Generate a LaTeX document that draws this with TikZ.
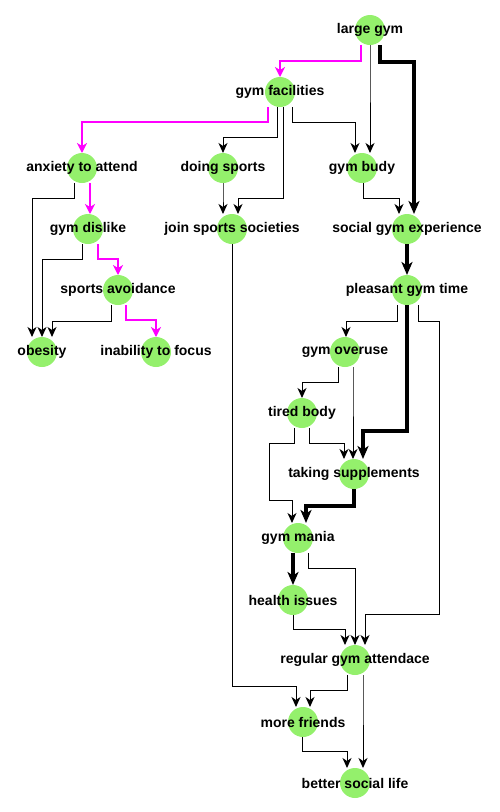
\documentclass[tikz,border=0pt]{standalone}
\usepackage{fontspec}
\setmainfont{Liberation Sans}
\usetikzlibrary{arrows.meta,backgrounds}
\definecolor{nodeG}{RGB}{148,240,108}
\definecolor{hotM}{RGB}{255,0,255}

\begin{document}
\begin{tikzpicture}[x=1pt,y=-1pt,font=\bfseries\fontsize{14}{16}\selectfont]
  \tikzset{gn/.style={circle,fill=nodeG,minimum size=30pt,inner sep=0pt,outer sep=0pt,label={[inner sep=0pt]center:#1}},
    lnk/.style={-{Stealth[length=10pt,width=9pt,inset=3pt]},line width=1pt},
    hot/.style={-{Stealth[length=13pt,width=11pt,inset=3.5pt]},line width=3.5pt},
    mag/.style={-{Stealth[length=10pt,width=10pt,inset=3pt]},line width=2.8pt,hotM}}
  \useasboundingbox (0,0) rectangle (500,812);
  \node[gn=large gym] (lg) at (370,30) {};
  \node[gn=gym facilities] (gf) at (280,92) {};
  \node[gn=anxiety to attend] (ata) at (82,168) {};
  \node[gn=doing sports] (ds) at (223,168) {};
  \node[gn=gym budy] (gb) at (362,168) {};
  \node[gn=gym dislike] (gd) at (88,229) {};
  \node[gn=join sports societies] (jss) at (232,229) {};
  \node[gn=social gym experience] (sge) at (407,229) {};
  \node[gn=sports avoidance] (sa) at (118,290) {};
  \node[gn=pleasant gym time] (pgt) at (407,290) {};
  \node[gn=obesity] (ob) at (42,352) {};
  \node[gn=inability to focus] (itf) at (156,352) {};
  \node[gn=gym overuse] (go) at (345,352) {};
  \node[gn=tired body] (tb) at (302,413) {};
  \node[gn=taking supplements] (ts) at (354,474) {};
  \node[gn=gym mania] (gm) at (298,538) {};
  \node[gn=health issues] (hi) at (293,600) {};
  \node[gn=regular gym attendace] (rga) at (355,660) {};
  \node[gn=more friends] (mf) at (303,722) {};
  \node[gn=better social life] (bsl) at (355,783) {};
  \begin{scope}[on background layer]
    % source / shift / drop / target / shift
    \foreach \a/\s/\d/\b/\t in {lg/0/15/gb/8,gf/-3/30/ds/0,gf/3/91/jss/6,gf/12/15/gb/-7,
      ds/0/15/jss/-9,gb/1/15/sge/-8,ata/-8/15/ob/-10,gd/-6/15/ob/0,sa/-7/16/ob/10,
      jss/0/442/mf/-7,pgt/-10/16/go/1,go/-7/15/tb/0,go/8/15/ts/-1,tb/7/15/ts/-10,
      gm/10/15/rga/0,hi/0/14/rga/-10,rga/-8/15/mf/7,rga/8/15/bsl/8,mf/-1/14/bsl/-8} {
      \draw[lnk] ([xshift=\s]\a.south) -- ++(0,\d) -| ([xshift=\t]\b.north);
    }
    \draw[lnk] ([xshift=11]pgt.south) -- ++(0,16) -| (439,614) -| ([xshift=10]rga.north);
    \draw[lnk] ([xshift=-8]tb.south) -- ++(0,15) -| (269,500) -| ([xshift=-6]gm.north);
    \foreach \a/\s/\d/\b/\t in {lg/10/17/sge/7,sge/0/15/pgt/0,pgt/0/126/ts/9,ts/0/17/gm/8,gm/-5/15/hi/0} {
      \draw[hot] ([xshift=\s]\a.south) -- ++(0,\d) -| ([xshift=\t]\b.north);
    }
    \foreach \a/\s/\d/\b/\t in {lg/-9/16/gf/0,gf/-12/15/ata/0,ata/8/15/gd/2,gd/10/15/sa/0,sa/8/15/itf/0} {
      \draw[mag] ([xshift=\s]\a.south) -- ++(0,\d) -| ([xshift=\t]\b.north);
    }
  \end{scope}
\end{tikzpicture}
\end{document}
